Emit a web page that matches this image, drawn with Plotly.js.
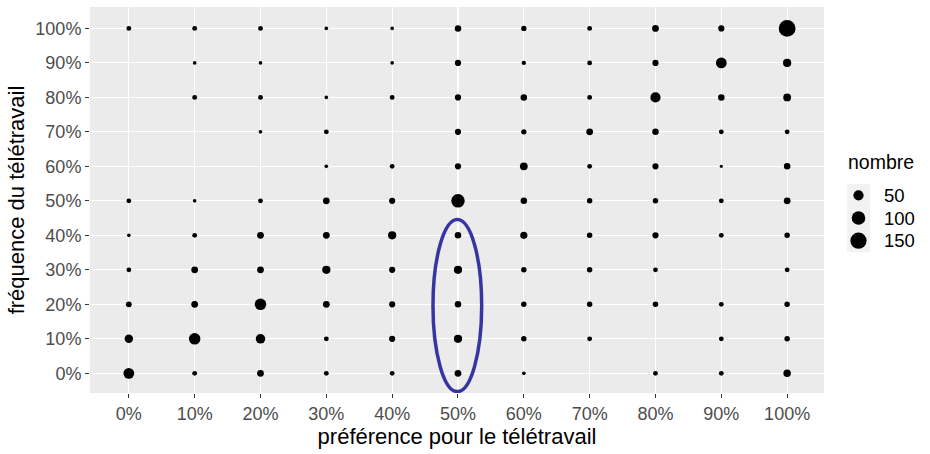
<!DOCTYPE html>
<html>
<head>
<meta charset="utf-8">
<script src="https://cdn.plot.ly/plotly-3.0.1.min.js"></script>
<style>
  html, body { margin: 0; padding: 0; background: #ffffff; }
  #chart { width: 930px; height: 454px; }
</style>
</head>
<body>
<div id="chart"></div>
<script>
// Categories (percentages)
const xLevels = [0, 10, 20, 30, 40, 50, 60, 70, 80, 90, 100]; // préférence pour le télétravail
const yLevels = [0, 10, 20, 30, 40, 50, 60, 70, 80, 90, 100]; // fréquence du télétravail
const xTickLabels = ['0%', '10%', '20%', '30%', '40%', '50%', '60%', '70%', '80%', '90%', '100%'];
const yTickLabels = ['0%', '10%', '20%', '30%', '40%', '50%', '60%', '70%', '80%', '90%', '100%'];

// Counts ("nombre") for each fréquence row, listed along préférence 0%..100% (null = no point)
const n_y0   = [57, 6, 17, 6, 6, 17, 2, null, 6, 6, 22];
const n_y10  = [31, 67, 42, 6, 13, 29, 9, 6, null, 6, 9];
const n_y20  = [11, 17, 67, 17, 13, 15, 9, 9, 9, 6, 9];
const n_y30  = [6, 17, 17, 29, 13, 29, 9, 9, 6, null, 6];
const n_y40  = [2, 6, 17, 17, 29, 15, 20, 9, 13, 6, 9];
const n_y50  = [6, 2, 6, 17, 13, 98, 15, 9, 9, 6, 17];
const n_y60  = [null, null, null, 2, 6, 13, 25, 6, 13, 1, 15];
const n_y70  = [null, null, 2, 6, null, 13, 8, 17, 15, 6, 6];
const n_y80  = [null, 6, 6, 2, 6, 13, 15, 6, 50, 15, 25];
const n_y90  = [null, 2, 2, null, 2, 13, 4, 6, 13, 57, 29];
const n_y100 = [6, 6, 6, 2, 2, 15, 8, 6, 17, 13, 163];

// Size legend
const legendValues = [50, 100, 150];
const legendLabels = ['50', '100', '150'];
const legendTitle = 'nombre';
const xTitle = 'préférence pour le télétravail';
const yTitle = 'fréquence du télétravail';

// Highlighted region (ellipse around préférence 50%, fréquence 0%–40%)
const highlightX = [46.2, 53.6];
const highlightY = [-5.3, 44.6];

const rows = [n_y0, n_y10, n_y20, n_y30, n_y40, n_y50, n_y60, n_y70, n_y80, n_y90, n_y100];

// size scale: diameter grows with sqrt(count) (area scale)
function diam(v) { return 2.0 + 1.16 * Math.sqrt(v); }

const xs = [], ys = [], ns = [];
rows.forEach((row, i) => {
  row.forEach((v, j) => {
    if (v !== null) { xs.push(xLevels[j]); ys.push(yLevels[i]); ns.push(v); }
  });
});

const W = 930, H = 454;
// panel in pixels
const P = { l: 90, r: 824, t: 7, b: 393 };
// legend key column in pixels
const L = { l: 840, r: 930, t: 184, b: 252, keyX: 18.5, textX: 42 };

const FONT = 'Liberation Sans, Arial, sans-serif';
const legendIdx = legendValues.map((v, i) => i);

const traces = [
  {
    type: 'scatter', mode: 'markers',
    x: xs, y: ys, xaxis: 'x', yaxis: 'y',
    marker: { color: '#000000', opacity: 1, size: ns.map(diam), sizemode: 'diameter', line: { width: 0 } },
    showlegend: false,
    hoverinfo: 'skip'
  },
  {
    type: 'scatter', mode: 'markers',
    x: legendValues.map(() => L.keyX), y: legendIdx,
    xaxis: 'x2', yaxis: 'y2',
    marker: { color: '#000000', opacity: 1, size: legendValues.map(diam), sizemode: 'diameter', line: { width: 0 } },
    showlegend: false,
    hoverinfo: 'skip'
  }
];
// legend key text through annotations on the legend axes
const legendAnnots = legendLabels.map((lbl, i) => ({
  xref: 'x2', yref: 'y2', x: L.textX, y: legendIdx[i], text: lbl,
  showarrow: false, xanchor: 'left', yanchor: 'middle',
  font: { family: FONT, size: 18.5, color: '#000000' }
}));

const tickFont = { family: FONT, size: 18, color: '#4d4d4d' };
const titleFont = { family: FONT, size: 22, color: '#000000' };

const layout = {
  width: W, height: H,
  margin: { l: 0, r: 0, t: 0, b: 0, pad: 0 },
  paper_bgcolor: '#ffffff',
  plot_bgcolor: '#ebebeb',
  font: { family: FONT },
  showlegend: false,
  xaxis: {
    domain: [P.l / W, P.r / W], anchor: 'y',
    range: [-5.9, 105.6],
    tickmode: 'array', tickvals: xLevels, ticktext: xTickLabels,
    showgrid: true, gridcolor: '#ffffff', gridwidth: 1.1,
    zeroline: false, showline: false,
    ticks: 'outside', ticklen: 4, tickwidth: 1, tickcolor: '#333333',
    tickfont: tickFont,
    title: { text: xTitle, font: titleFont, standoff: 6 },
    automargin: false
  },
  yaxis: {
    domain: [(H - P.b) / H, (H - P.t) / H], anchor: 'x',
    range: [-5.7, 106.2],
    tickmode: 'array', tickvals: yLevels, ticktext: yTickLabels,
    showgrid: true, gridcolor: '#ffffff', gridwidth: 1.1,
    zeroline: false, showline: false,
    ticks: 'outside', ticklen: 4, tickwidth: 1, tickcolor: '#333333',
    tickfont: tickFont,
    title: { text: yTitle, font: titleFont, standoff: 4 },
    automargin: false
  },
  xaxis2: {
    domain: [L.l / W, L.r / W], anchor: 'y2',
    range: [0, L.r - L.l], visible: false, fixedrange: true
  },
  yaxis2: {
    domain: [(H - L.b) / H, (H - L.t) / H], anchor: 'x2',
    range: [legendValues.length - 0.5, -0.5], visible: false, fixedrange: true
  },
  shapes: [
    {
      type: 'rect', xref: 'x2 domain', yref: 'y2 domain',
      x0: 0, x1: 1, y0: 0, y1: 1,
      fillcolor: '#ffffff', line: { width: 0 }, layer: 'below'
    },
    {
      type: 'rect', xref: 'paper', yref: 'paper',
      x0: 847 / W, x1: 870 / W,
      y0: (H - L.b) / H, y1: (H - L.t) / H,
      fillcolor: '#f2f2f2', line: { width: 0 }, layer: 'below'
    },
    {
      type: 'circle', xref: 'x', yref: 'y',
      x0: highlightX[0], x1: highlightX[1], y0: highlightY[0], y1: highlightY[1],
      line: { color: '#3636a2', width: 3.5 },
      fillcolor: 'rgba(0,0,0,0)',
      layer: 'above'
    }
  ],
  annotations: [
    {
      xref: 'paper', yref: 'paper', x: 846 / W, y: (H - 162) / H,
      text: legendTitle, showarrow: false, xanchor: 'left', yanchor: 'middle',
      font: { family: FONT, size: 19.5, color: '#000000' }
    }
  ].concat(legendAnnots)
};

Plotly.newPlot('chart', traces, layout, { displayModeBar: false, staticPlot: true });
</script>
</body>
</html>
